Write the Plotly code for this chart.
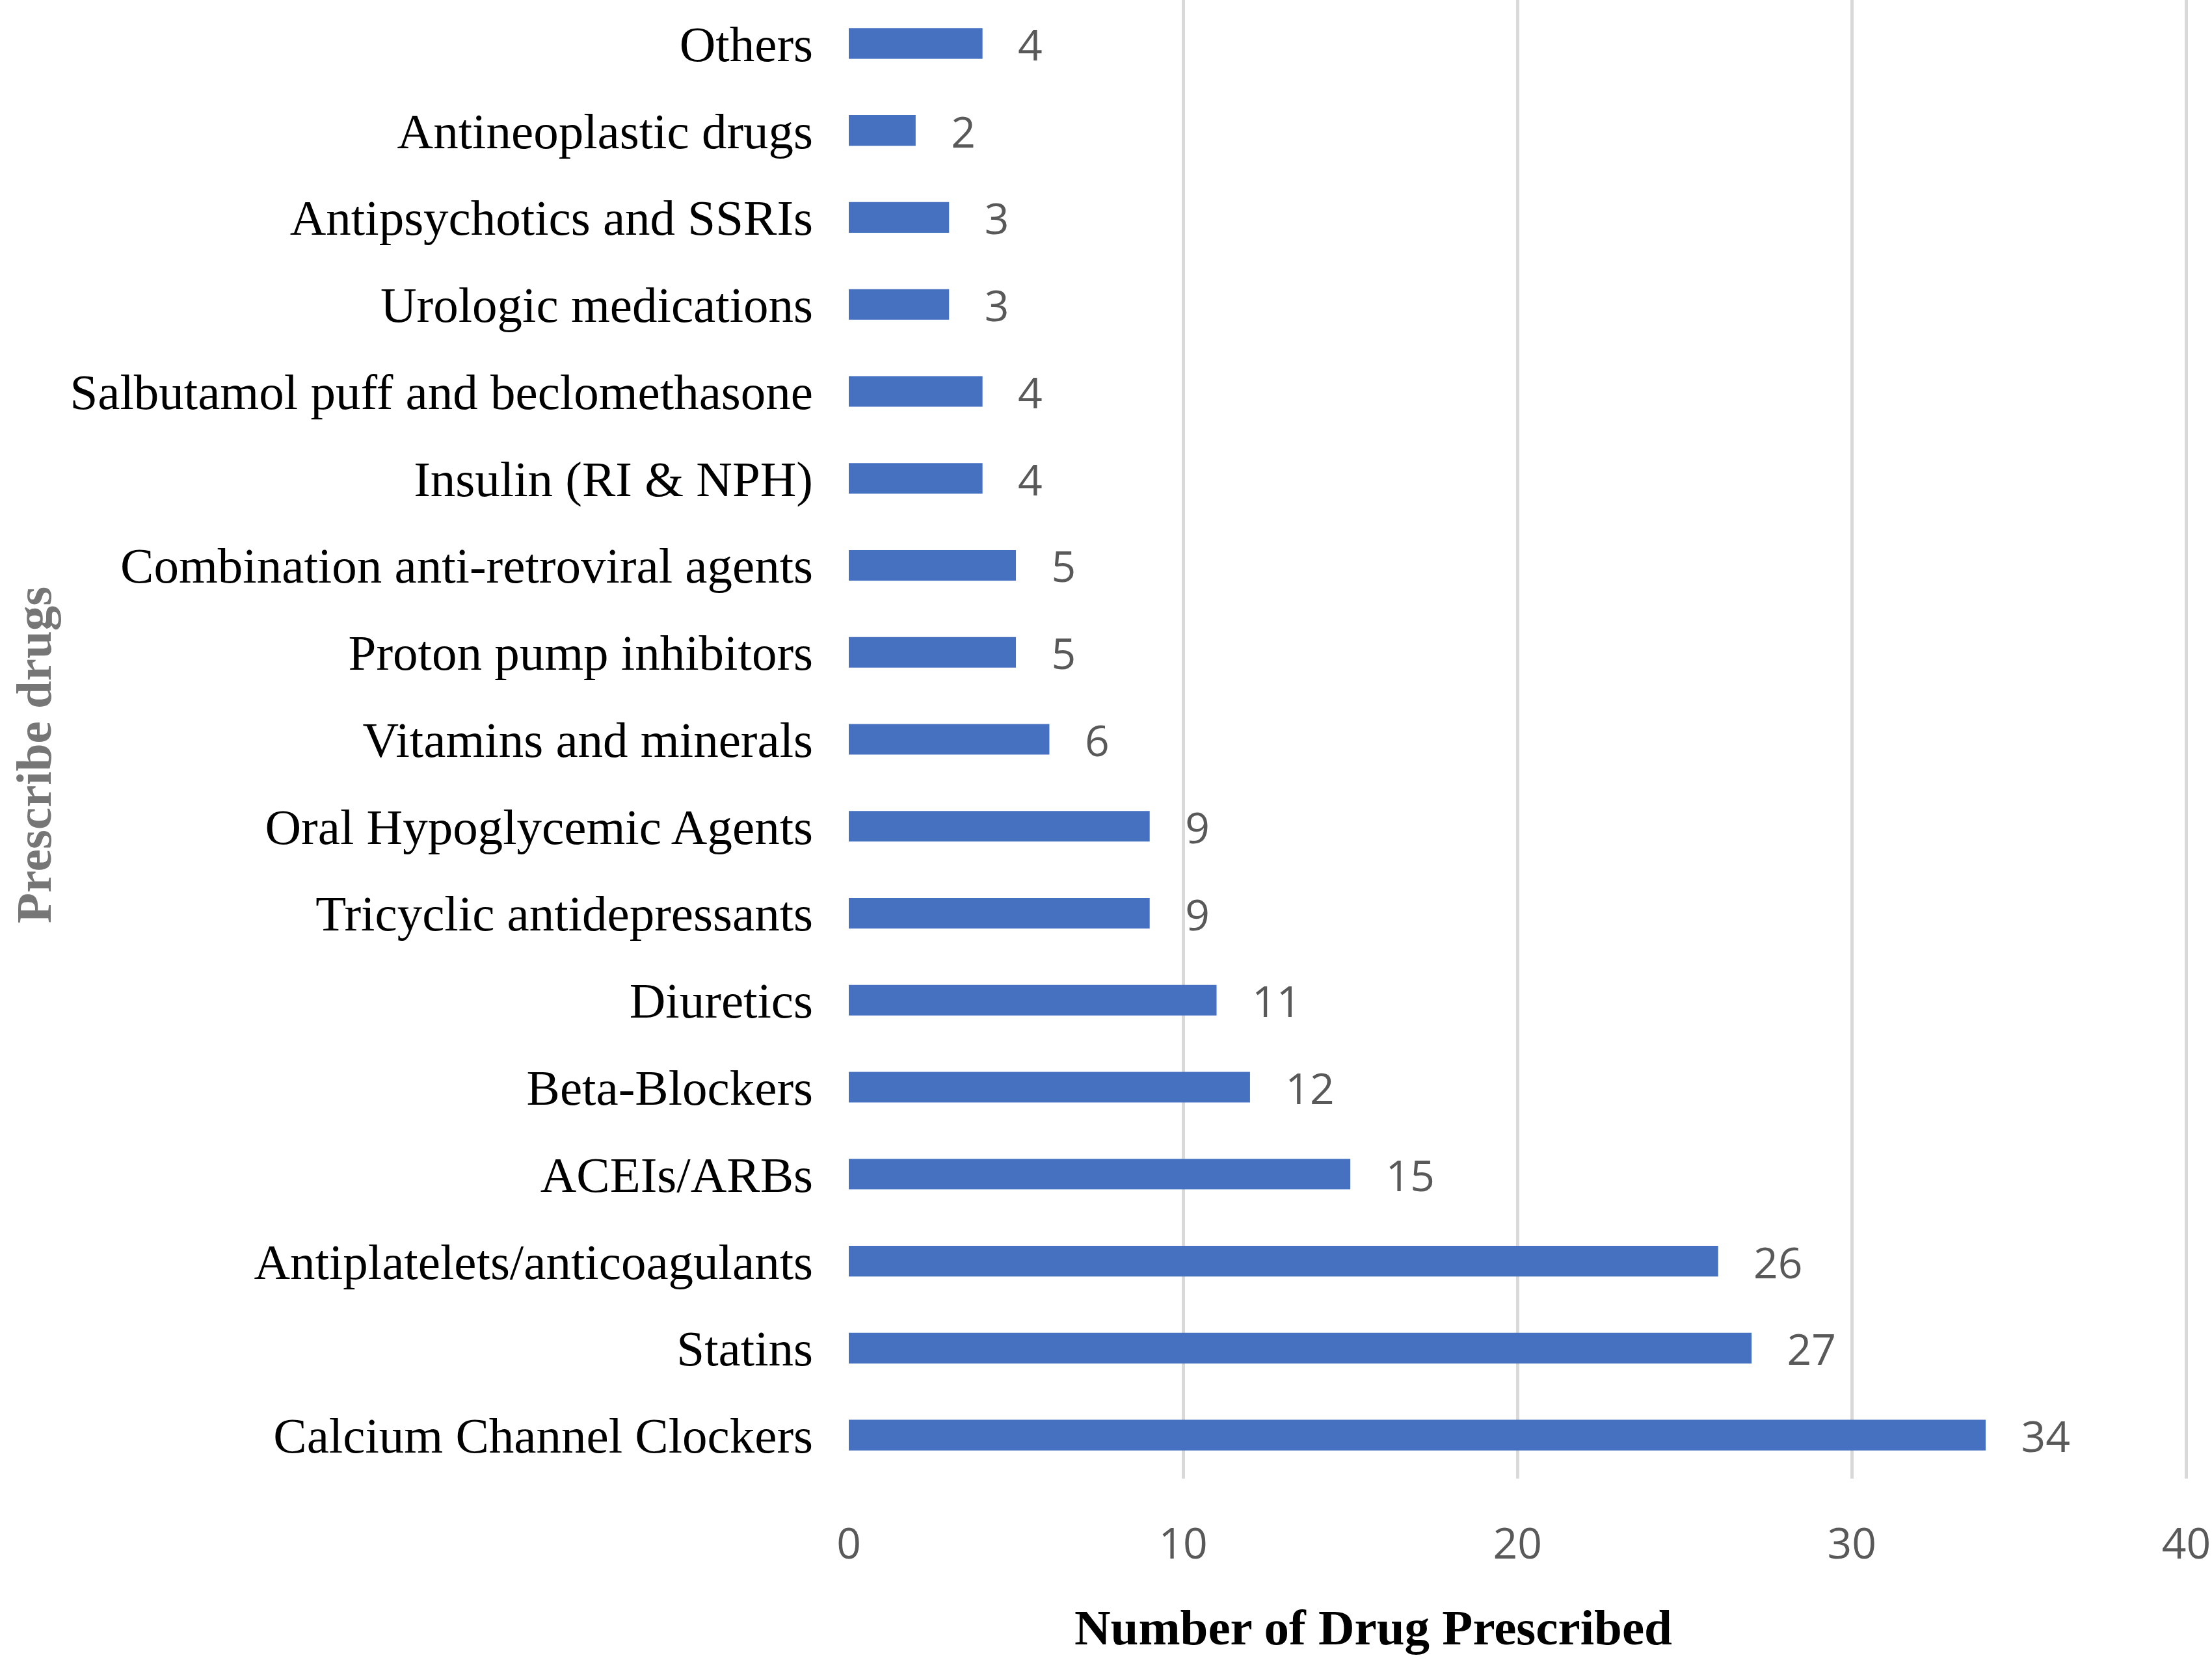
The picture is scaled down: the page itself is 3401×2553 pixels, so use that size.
import plotly.graph_objects as go

categories = [
    "Calcium Channel Clockers",
    "Statins",
    "Antiplatelets/anticoagulants",
    "ACEIs/ARBs",
    "Beta-Blockers",
    "Diuretics",
    "Tricyclic antidepressants",
    "Oral Hypoglycemic Agents",
    "Vitamins and minerals",
    "Proton pump inhibitors",
    "Combination anti-retroviral agents",
    "Insulin (RI & NPH)",
    "Salbutamol puff and beclomethasone",
    "Urologic medications",
    "Antipsychotics and SSRIs",
    "Antineoplastic drugs",
    "Others",
]
values = [34, 27, 26, 15, 12, 11, 9, 9, 6, 5, 5, 4, 4, 3, 3, 2, 4]
x_ticks = [0, 10, 20, 30, 40]

W, H = 3401, 2553
L, R, T, B = 1305, 37, 0, 279
plot_w = W - L - R
plot_h = H - T - B

fig = go.Figure()
fig.add_trace(go.Bar(
    x=values,
    y=categories,
    orientation="h",
    marker=dict(color="#4571C0", line=dict(width=0)),
    width=0.352,
    text=["\u00a0\u00a0\u00a0" + str(v) for v in values],
    textposition="outside",
    constraintext="none",
    textfont=dict(family="Open Sans", size=66, color="#595959"),
    cliponaxis=False,
    hoverinfo="skip",
))

fig.update_layout(
    width=W,
    height=H,
    margin=dict(l=L, r=R, t=T, b=B),
    paper_bgcolor="white",
    plot_bgcolor="white",
    showlegend=False,
    xaxis=dict(
        range=[0, 40.05],
        tickvals=x_ticks,
        ticktext=[str(t) for t in x_ticks],
        showgrid=True,
        gridcolor="#D9D9D9",
        gridwidth=5,
        zeroline=False,
        showline=False,
        ticks="",
        ticklabelstandoff=56,
        tickfont=dict(family="Open Sans", size=66, color="#595959"),
    ),
    yaxis=dict(
        categoryorder="array",
        categoryarray=categories,
        range=[-0.5, len(categories) - 0.5],
        showgrid=False,
        zeroline=False,
        showline=False,
        ticks="",
        ticklabelstandoff=54,
        tickfont=dict(family="Liberation Serif", size=77, color="#000000"),
    ),
    annotations=[
        dict(
            text="<b>Number of Drug Prescribed</b>",
            xref="paper", yref="paper",
            x=(2111 - L) / plot_w, y=-(2503 - plot_h) / plot_h,
            xanchor="center", yanchor="middle",
            showarrow=False,
            font=dict(family="Liberation Serif", size=77, color="#000000"),
        ),
        dict(
            text="<b>Prescribe drugs</b>",
            xref="paper", yref="paper",
            x=(52 - L) / plot_w, y=1 - 1161 / plot_h,
            xanchor="center", yanchor="middle",
            textangle=-90,
            showarrow=False,
            font=dict(family="Liberation Serif", size=77, color="#767676"),
        ),
    ],
)

fig.write_html(
    "out.html",
    config={"displayModeBar": False},
    post_script="document.body.style.margin='0px';document.body.style.overflow='hidden';",
)
